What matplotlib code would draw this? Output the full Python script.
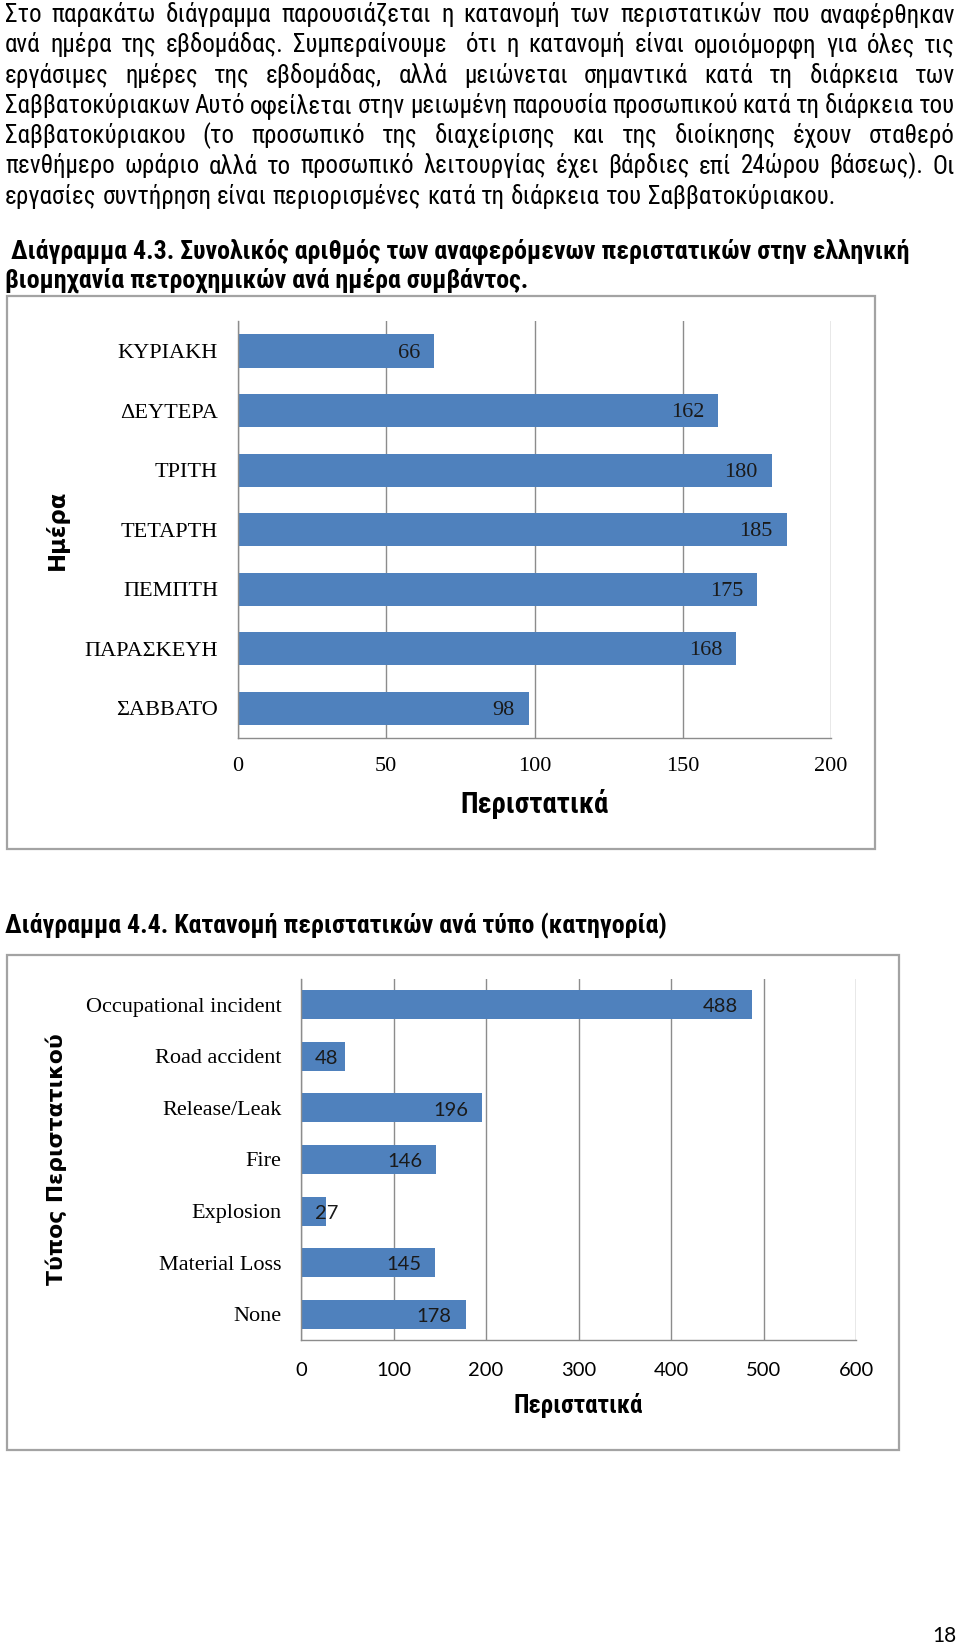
import os
import matplotlib
matplotlib.use("Agg")
import matplotlib.pyplot as plt
from matplotlib import font_manager as fm
from matplotlib.patches import Rectangle

W, H = 960, 1647

# ---- data ----
days = ["ΚΥΡΙΑΚΗ", "ΔΕΥΤΕΡΑ", "ΤΡΙΤΗ", "ΤΕΤΑΡΤΗ", "ΠΕΜΠΤΗ", "ΠΑΡΑΣΚΕΥΗ", "ΣΑΒΒΑΤΟ"]
day_counts = [66, 162, 180, 185, 175, 168, 98]
day_ticks = [0, 50, 100, 150, 200]

types = ["Occupational incident", "Road accident", "Release/Leak", "Fire",
         "Explosion", "Material Loss", "None"]
type_counts = [488, 48, 196, 146, 27, 145, 178]
type_ticks = [0, 100, 200, 300, 400, 500, 600]

body_lines = [
    "Στο παρακάτω διάγραμμα παρουσιάζεται η κατανομή των περιστατικών που αναφέρθηκαν",
    "ανά ημέρα της εβδομάδας. Συμπεραίνουμε  ότι η κατανομή είναι ομοιόμορφη για όλες τις",
    "εργάσιμες ημέρες της εβδομάδας, αλλά μειώνεται σημαντικά κατά τη διάρκεια των",
    "Σαββατοκύριακων Αυτό οφείλεται στην μειωμένη παρουσία προσωπικού κατά τη διάρκεια του",
    "Σαββατοκύριακου (το προσωπικό της διαχείρισης και της διοίκησης έχουν σταθερό",
    "πενθήμερο ωράριο αλλά το προσωπικό λειτουργίας έχει βάρδιες επί 24ώρου βάσεως). Οι",
    "εργασίες συντήρηση είναι περιορισμένες κατά τη διάρκεια του Σαββατοκύριακου.",
]
heading1 = [" Διάγραμμα 4.3. Συνολικός αριθμός των αναφερόμενων περιστατικών στην ελληνική",
            "βιομηχανία πετροχημικών ανά ημέρα συμβάντος."]
heading2 = "Διάγραμμα 4.4. Κατανομή περιστατικών ανά τύπο (κατηγορία)"

BAR = "#4F81BD"
GRID = "#8c8c8c"
FRAME = "#a3a3a3"

# ---- fonts ----
_files = fm.findSystemFonts()
_files += fm.findSystemFonts(fontpaths=[os.path.join(matplotlib.get_data_path(), "fonts", "ttf")])


def font_file(*names):
    for n in names:
        for f in _files:
            if os.path.basename(f).lower() == n.lower():
                return f
    return None


narrow = font_file("LiberationSansNarrow-Regular.ttf", "RobotoCondensed-Regular.ttf",
                   "DejaVuSansCondensed.ttf", "LiberationSans-Regular.ttf")
narrow_b = font_file("LiberationSansNarrow-Bold.ttf", "RobotoCondensed-Bold.ttf",
                     "DejaVuSansCondensed-Bold.ttf", "LiberationSans-Bold.ttf")


def fp(path, size, weight="normal", family="DejaVu Sans"):
    if path:
        return fm.FontProperties(fname=path, size=size)
    return fm.FontProperties(family=family, size=size, weight=weight)


fig = plt.figure(figsize=(W / 100, H / 100), dpi=100)
rend = fig.canvas.get_renderer()


def tw(s, prop):
    if not s:
        return 0.0
    return rend.get_text_width_height_descent(s, prop, ismath=False)[0]


page = fig.add_axes([0, 0, 1, 1])
page.set_xlim(0, W)
page.set_ylim(H, 0)
page.axis("off")

# ---- body text (justified) ----
X0, X1 = 5, 955
base = fp(narrow, 10)
sp10 = tw("a a", base) - tw("aa", base)
need = []
for ln in body_lines[:-1]:
    ws = ln.split(" ")
    need.append(sum(tw(w, base) for w in ws) + 0.8 * sp10 * (len(ws) - 1))
body_size = min(18, 10 * (X1 - X0) / max(need))
bprop = fp(narrow, body_size)
sp = tw("a a", bprop) - tw("aa", bprop)

for k, ln in enumerate(body_lines):
    y = 22 + 30.3 * k
    words = ln.split(" ")
    widths = [tw(w, bprop) for w in words]
    if k < len(body_lines) - 1:
        gap = (X1 - X0 - sum(widths)) / (len(words) - 1)
    else:
        gap = sp
    x = X0
    for w, wd in zip(words, widths):
        if w:
            page.text(x, y, w, fontproperties=bprop, ha="left", va="baseline", color="black")
        x += wd + gap

# ---- headings ----
hsize = min(19, 10 * 905 / tw(heading1[0], fp(narrow_b, 10, "bold")))
hprop = fp(narrow_b, hsize, "bold")
page.text(5, 258, heading1[0], fontproperties=hprop, ha="left", va="baseline")
page.text(5, 287.5, heading1[1], fontproperties=hprop, ha="left", va="baseline")
page.text(5, 933, heading2, fontproperties=hprop, ha="left", va="baseline")

# chart frames
page.add_patch(Rectangle((7, 295.5), 868, 553.5, fill=False, ec=FRAME, lw=1.6))
page.add_patch(Rectangle((7.3, 955), 891.7, 495, fill=False, ec=FRAME, lw=1.6))

# page number
page.text(944, 1636, "18", family="Lato", fontsize=15, ha="center", va="center")


def sized(text, target, path, weight="bold"):
    s = 10 * target / tw(text, fp(path, 10, weight))
    return fp(path, s, weight)


def bar_chart(box, cats, vals, ticks, cat_font, val_font, tick_font,
              xpad, ypad, xlab_y, ylab_x, xlab_w, ylab_len, ylabel, short=None):
    l, t, r, b = box
    ax = fig.add_axes([l / W, 1 - b / H, (r - l) / W, (b - t) / H])
    ax.patch.set_alpha(0)
    pos = list(range(len(cats)))
    ax.barh(pos, vals, height=0.56, color=BAR, zorder=2)
    ax.set_ylim(len(cats) - 0.5, -0.5)
    ax.set_xlim(ticks[0], ticks[-1])
    ax.set_xticks(ticks)
    ax.set_xticklabels([str(v) for v in ticks], fontproperties=tick_font)
    ax.set_yticks(pos)
    ax.set_yticklabels(cats, fontproperties=cat_font)
    ax.tick_params(axis="x", length=0, pad=xpad)
    ax.tick_params(axis="y", length=0, pad=ypad)
    ax.grid(axis="x", color=GRID, lw=1.0, zorder=0)
    ax.set_axisbelow(True)
    for s in ("top", "right"):
        ax.spines[s].set_visible(False)
    for s in ("left", "bottom"):
        ax.spines[s].set_color(GRID)
        ax.spines[s].set_linewidth(1.0)
    for i, v in enumerate(vals):
        if short is not None and v < short:
            ax.annotate(str(v), xy=(0, i), xytext=(10, -1.5), textcoords="offset points",
                        ha="left", va="center", fontproperties=val_font, color="#1a1a1a")
        else:
            ax.annotate(str(v), xy=(v, i), xytext=(-10, -1.5), textcoords="offset points",
                        ha="right", va="center", fontproperties=val_font, color="#1a1a1a")
    ax.set_xlabel("Περιστατικά", fontproperties=sized("Περιστατικά", xlab_w, narrow_b),
                  va="center")
    ax.xaxis.set_label_coords(0.5, -(xlab_y - b) / (b - t))
    ax.set_ylabel(ylabel, fontproperties=sized(ylabel, ylab_len, None),
                  va="center", ha="center", rotation=90)
    ax.yaxis.set_label_coords((ylab_x - l) / (r - l), 0.5)
    return ax


serif16 = fm.FontProperties(family="Liberation Serif", size=16)
lato = fm.FontProperties(family="Lato", size=14.5)

bar_chart((238, 321.4, 831, 738), days, day_counts, day_ticks,
          serif16, serif16, serif16, xpad=14, ypad=14.4,
          xlab_y=804, ylab_x=57, xlab_w=148, ylab_len=80, ylabel="Ημέρα")

bar_chart((301, 979, 856, 1340), types, type_counts, type_ticks,
          serif16, lato, lato, xpad=16, ypad=14,
          xlab_y=1406, ylab_x=56, xlab_w=129, ylab_len=252,
          ylabel="Τύπος Περιστατικού", short=60)

fig.savefig("out.png", dpi=100, facecolor="white")
